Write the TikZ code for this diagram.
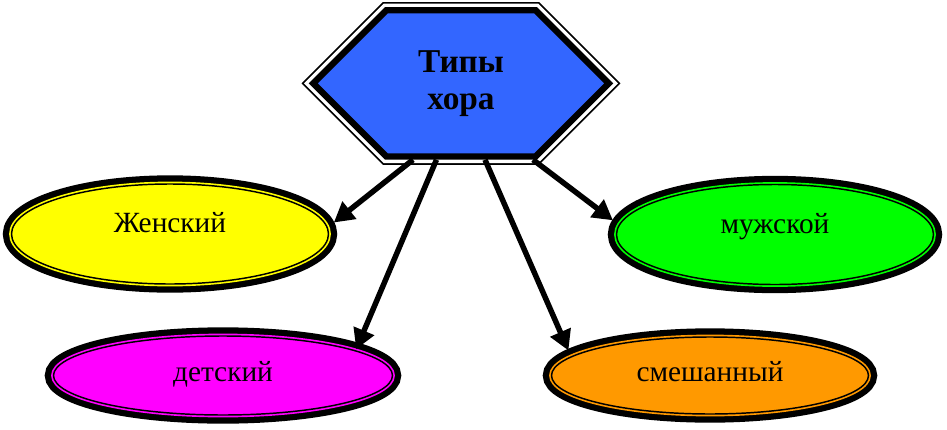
\documentclass[tikz,border=0pt]{standalone}
\usepackage{fontspec}
\setmainfont{Liberation Serif}
\usetikzlibrary{shapes.geometric,shapes.symbols,arrows.meta}

\definecolor{azul}{HTML}{3366FF}
\definecolor{amarillo}{HTML}{FFFF00}
\definecolor{verde}{HTML}{00FF00}
\definecolor{rosa}{HTML}{FF00FF}
\definecolor{naranja}{HTML}{FF9900}

\tikzset{
  hexa/.style={signal, signal to=west and east, signal pointer angle=90,
    fill=azul, draw=black, line width=4.8pt,
    preaction={draw=black, line width=12.4pt},
    preaction={draw=white, line width=9.9pt},
    minimum width=221.6pt, minimum height=109.7pt, inner sep=2pt,
    align=center, font=\bfseries\fontsize{25}{27.75}\selectfont},
  tipo/.style={ellipse, fill=#1, draw=black, line width=1.1pt,
    preaction={draw=black, line width=13pt},
    preaction={draw=#1, line width=3.6pt},
    outer sep=6.4pt, font=\fontsize{22}{26}\selectfont},
  arriba/.style={text height=14pt, text depth=16pt},
  abajo/.style={text height=14pt, text depth=5.5pt},
  flecha/.style={line width=4.1pt, -{Triangle[length=15pt,width=16pt]}}
}

\begin{document}
\begin{tikzpicture}[x=0.75pt, y=-0.75pt]

    % Marco de la figura
    \useasboundingbox (0,0) rectangle (947,429);

    % Dibujar el hexágono central
    \node[hexa] (tipos) at (461,83.4) {Типы\\хора};

    % Dibujar los óvalos
    \node[tipo=amarillo, arriba, minimum width=237.75pt, minimum height=75pt] (zhen) at (170,234) {Женский};
    \node[tipo=verde, arriba, minimum width=237.75pt, minimum height=75pt] (muzh) at (775,234.5) {мужской};
    \node[tipo=rosa, abajo, minimum width=254.25pt, minimum height=59.25pt] (det) at (223,375.5) {детский};
    \node[tipo=naranja, abajo, minimum width=237.75pt, minimum height=57.75pt] (smesh) at (710,375.5) {смешанный};

    % Dibujar las flechas
    \draw[flecha] ([xshift=-36pt]tipos.south) -- (zhen.4);
    \draw[flecha, shorten >=-4pt] ([xshift=-18.4pt]tipos.south) -- (det.13);
    \draw[flecha] ([xshift=18pt]tipos.south) -- (smesh.170);
    \draw[flecha] ([xshift=54pt]tipos.south) -- (muzh.175);

\end{tikzpicture}
\end{document}
